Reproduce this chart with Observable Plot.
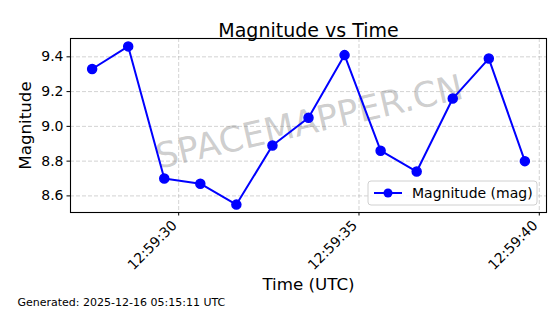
<!DOCTYPE html>
<html>
<head>
<meta charset="utf-8">
<script src="https://cdn.jsdelivr.net/npm/d3@7"></script>
<script src="https://cdn.jsdelivr.net/npm/@observablehq/plot@0.6"></script>
<style>
  html, body { margin: 0; padding: 0; background: #fff; }
  svg { font-family: "DejaVu Sans", sans-serif; }
</style>
</head>
<body>
<div id="chart"></div>
<script>
// ---- data ----
const dateStr = "2025-12-16";
const times = ["12:59:27.6","12:59:28.6","12:59:29.6","12:59:30.6","12:59:31.6","12:59:32.6","12:59:33.6","12:59:34.6","12:59:35.6","12:59:36.6","12:59:37.6","12:59:38.6","12:59:39.6"];
const magnitudes = [9.33, 9.46, 8.70, 8.67, 8.55, 8.89, 9.05, 9.41, 8.86, 8.74, 9.16, 9.39, 8.80];
const yTicks = [8.6, 8.8, 9.0, 9.2, 9.4];
const titleText = "Magnitude vs Time";
const xLabel = "Time (UTC)";
const yLabel = "Magnitude";
const seriesName = "Magnitude (mag)";
const watermark = "SPACEMAPPER.CN";
const captionText = "Generated: 2025-12-16 05:15:11 UTC";

const parse = t => new Date(`${dateStr}T${t}Z`);
const data = times.map((t, i) => ({time: parse(t), mag: magnitudes[i]}));

const tMin = d3.min(data, d => d.time), tMax = d3.max(data, d => d.time);
const tPad = (tMax - tMin) * 0.05;
const yMin = d3.min(magnitudes), yMax = d3.max(magnitudes);
const yPad = (yMax - yMin) * 0.05;

const blue = "#0000ff";
const font = "DejaVu Sans, sans-serif";
const xTickInterval = d3.utcSecond.every(5);

const chart = Plot.plot({
  width: 560,
  height: 314,
  marginLeft: 70,
  marginRight: 14,
  marginTop: 38,
  marginBottom: 102,
  style: {fontFamily: font, background: "#fff", overflow: "visible"},
  x: {type: "utc", domain: [new Date(+tMin - tPad), new Date(+tMax + tPad)]},
  y: {domain: [yMin - yPad, yMax + yPad]},
  marks: [
    Plot.gridX({ticks: xTickInterval, stroke: "#b0b0b0", strokeOpacity: 0.7, strokeDasharray: "4,2", strokeWidth: 0.8}),
    Plot.gridY(yTicks, {stroke: "#b0b0b0", strokeOpacity: 0.7, strokeDasharray: "4,2", strokeWidth: 0.8}),
    Plot.text([watermark], {frameAnchor: "middle", text: d => d, rotate: -13, fontSize: 35, fill: "#808080", fillOpacity: 0.4, dy: -3, dx: 1}),
    Plot.line(data, {x: "time", y: "mag", stroke: blue, strokeWidth: 2}),
    Plot.dot(data, {x: "time", y: "mag", r: 4.5, fill: blue, stroke: blue}),
    Plot.frame({stroke: "#000", strokeWidth: 1.1}),
    Plot.axisY({ticks: yTicks, tickFormat: d3.format(".1f"), tickSize: 3.5, tickPadding: 3.5, fontSize: 14, label: null, stroke: "#000", color: "#000"}),
    Plot.axisX({ticks: xTickInterval, tickFormat: () => "", tickSize: 3.5, label: null, stroke: "#000"}),
    Plot.axisX({ticks: xTickInterval, tickFormat: d3.utcFormat("%H:%M:%S"), tickRotate: -45, tickSize: 0, tickPadding: 6.5, fontSize: 14, label: null, dx: -4, dy: 4}),
    Plot.text([titleText], {frameAnchor: "top", text: d => d, dy: -15, fontSize: 19, fill: "#000"}),
    Plot.text([xLabel], {frameAnchor: "bottom", text: d => d, dy: 77, fontSize: 16.7, fill: "#000"}),
    Plot.text([yLabel], {frameAnchor: "left", text: d => d, dx: -45, rotate: -90, textAnchor: "middle", fontSize: 16.7, fill: "#000"}),
    Plot.text([captionText], {frameAnchor: "bottom-left", text: d => d, dx: -53, dy: 93, fontSize: 11, textAnchor: "start", fill: "#000"})
  ]
});

// legend
const svg = d3.select(chart);
const lg = svg.append("g").attr("class", "legend").attr("font-family", font).attr("text-anchor", "start");
lg.append("rect").attr("x", 368).attr("y", 181).attr("width", 169).attr("height", 24).attr("rx", 3)
  .attr("fill", "#fff").attr("fill-opacity", 0.8).attr("stroke", "#d0d0d0");
lg.append("line").attr("x1", 374).attr("x2", 402).attr("y1", 193).attr("y2", 193).attr("stroke", blue).attr("stroke-width", 2);
lg.append("circle").attr("cx", 388).attr("cy", 193).attr("r", 4.5).attr("fill", blue);
lg.append("text").attr("x", 412).attr("y", 193).attr("dy", "0.35em").attr("font-size", 14).attr("fill", "#000").attr("text-anchor", "start").text(seriesName);

document.getElementById("chart").appendChild(chart);
</script>
</body>
</html>
